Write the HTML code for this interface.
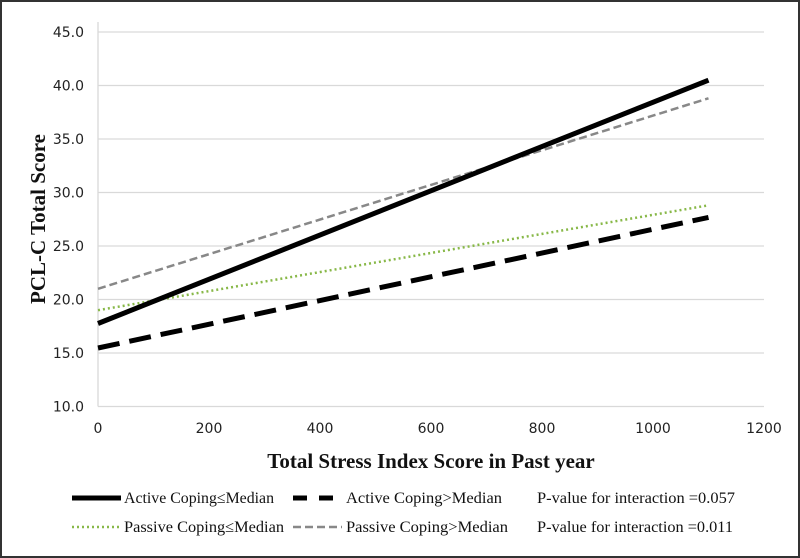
<!DOCTYPE html>
<html><head><style>
body{margin:0;background:#fff}
svg{display:block}
</style></head><body>
<svg width="800" height="558" xmlns="http://www.w3.org/2000/svg">
<rect x="1" y="1" width="798" height="556" fill="#fff" stroke="#333" stroke-width="2"/>
<g stroke="#d9d9d9" stroke-width="1.3">
<line x1="98" y1="32" x2="764" y2="32"/>
<line x1="98" y1="85.5" x2="764" y2="85.5"/>
<line x1="98" y1="139" x2="764" y2="139"/>
<line x1="98" y1="192.5" x2="764" y2="192.5"/>
<line x1="98" y1="246" x2="764" y2="246"/>
<line x1="98" y1="299.5" x2="764" y2="299.5"/>
<line x1="98" y1="353" x2="764" y2="353"/>
<line x1="98" y1="406.5" x2="764" y2="406.5"/>
<line x1="98" y1="22" x2="98" y2="406.5"/>
</g>
<g font-family="DejaVu Sans, sans-serif" font-size="14" fill="#222" text-anchor="end">
<text x="84" y="37">45.0</text><text x="84" y="90.5">40.0</text><text x="84" y="144">35.0</text>
<text x="84" y="197.5">30.0</text><text x="84" y="251">25.0</text><text x="84" y="304.5">20.0</text>
<text x="84" y="358">15.0</text><text x="84" y="411.5">10.0</text>
</g>
<g font-family="DejaVu Sans, sans-serif" font-size="14" fill="#222" text-anchor="middle">
<text x="98" y="433">0</text><text x="209" y="433">200</text><text x="320" y="433">400</text>
<text x="431" y="433">600</text><text x="542" y="433">800</text><text x="653" y="433">1000</text><text x="764" y="433">1200</text>
</g>
<text x="431" y="468" font-family="Liberation Serif, serif" font-weight="bold" font-size="21" text-anchor="middle" fill="#111">Total Stress Index Score in Past year</text>
<text transform="translate(45,219) rotate(-90)" font-family="Liberation Serif, serif" font-weight="bold" font-size="21" text-anchor="middle" fill="#111">PCL-C Total Score</text>
<line x1="98" y1="288.8" x2="708.5" y2="98.3" stroke="#888" stroke-width="2.5" stroke-dasharray="8,4"/>
<line x1="98" y1="310.2" x2="708.5" y2="205.3" stroke="#88b848" stroke-width="2.5" stroke-dasharray="2,3"/>
<line x1="98" y1="323.5" x2="708.5" y2="80.2" stroke="#000" stroke-width="5"/>
<line x1="98" y1="348" x2="708.5" y2="217.4" stroke="#000" stroke-width="5" stroke-dasharray="22,10"/>
<g font-family="Liberation Serif, serif" font-size="16" fill="#111">
<line x1="72" y1="498" x2="121" y2="498" stroke="#000" stroke-width="5"/>
<text x="124" y="503" textLength="150" lengthAdjust="spacingAndGlyphs">Active Coping≤Median</text>
<line x1="293" y1="498" x2="342" y2="498" stroke="#000" stroke-width="5" stroke-dasharray="14,12"/>
<text x="346" y="503" textLength="156" lengthAdjust="spacingAndGlyphs">Active Coping&gt;Median</text>
<text x="537" y="503" textLength="198" lengthAdjust="spacingAndGlyphs">P-value for interaction =0.057</text>
<line x1="72" y1="527" x2="121" y2="527" stroke="#88b848" stroke-width="2.5" stroke-dasharray="2,3"/>
<text x="124" y="532" textLength="160" lengthAdjust="spacingAndGlyphs">Passive Coping≤Median</text>
<line x1="293" y1="527" x2="342" y2="527" stroke="#888" stroke-width="2.5" stroke-dasharray="8,4"/>
<text x="346" y="532" textLength="162" lengthAdjust="spacingAndGlyphs">Passive Coping&gt;Median</text>
<text x="537" y="532" textLength="196" lengthAdjust="spacingAndGlyphs">P-value for interaction =0.011</text>
</g>
</svg>
</body></html>
